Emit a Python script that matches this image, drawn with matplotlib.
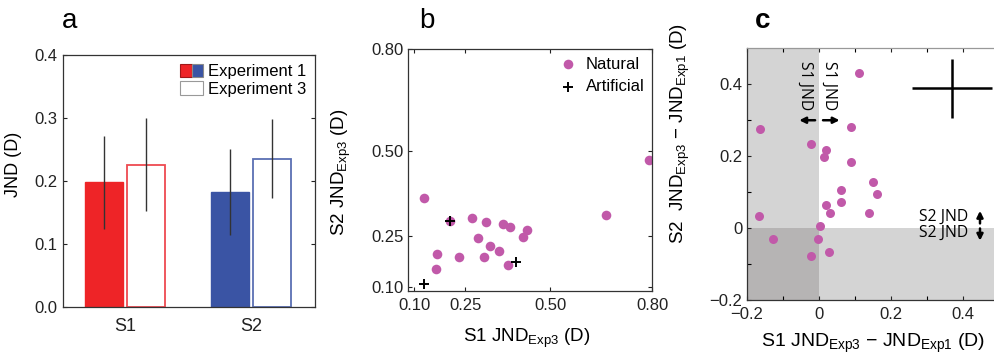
import numpy as np
import matplotlib
matplotlib.use("Agg")
import matplotlib.pyplot as plt
from matplotlib.patches import Patch
from matplotlib.legend_handler import HandlerTuple

plt.rcParams['font.family'] = ['Liberation Sans', 'DejaVu Sans']
plt.rcParams['mathtext.fontset'] = 'custom'
plt.rcParams['mathtext.rm'] = 'Liberation Sans'
plt.rcParams['mathtext.it'] = 'Liberation Sans:italic'
plt.rcParams['font.size'] = 12

# panel a: mean JND per stimulus, experiment 1 vs experiment 3
stimuli = ["S1", "S2"]
jnd_exp1 = [0.198, 0.182]
jnd_exp3 = [0.226, 0.235]
err_exp1 = [0.074, 0.068]
err_exp3 = [0.074, 0.063]

# panel b: per-observer JND in experiment 3
nat_s1 = [0.791, 0.129, 0.206, 0.270, 0.312, 0.362, 0.383, 0.433, 0.420,
          0.288, 0.324, 0.349, 0.167, 0.233, 0.306, 0.377, 0.164, 0.664]
nat_s2 = [0.474, 0.362, 0.294, 0.303, 0.292, 0.285, 0.276, 0.266, 0.245,
          0.243, 0.219, 0.204, 0.197, 0.188, 0.188, 0.163, 0.152, 0.312]
art_s1 = [0.206, 0.399, 0.130]
art_s2 = [0.294, 0.174, 0.108]

# panel c: JND differences Exp3 - Exp1
diff_s1 = [0.111, -0.163, -0.023, 0.090, 0.020, 0.014, 0.088, 0.151, 0.162, 0.060,
           0.062, 0.018, 0.030, 0.140, -0.167, 0.002, -0.127, -0.002, 0.028, -0.023]
diff_s2 = [0.432, 0.275, 0.234, 0.280, 0.218, 0.199, 0.183, 0.128, 0.096, 0.105,
           0.072, 0.063, 0.042, 0.042, 0.033, 0.005, -0.030, -0.030, -0.067, -0.078]
cross_mean = (0.369, 0.389)
cross_err = (0.112, 0.0825)

red, blue = '#ee2427', '#3a54a4'
purple = '#c159a9'
light, dark = '#d4d4d4', '#b6b4b4'

fig = plt.figure(figsize=(9.95, 3.58), dpi=100)
ax_a = fig.add_axes([0.063, 0.1433, 0.2536, 0.703])
ax_b = fig.add_axes([0.4104, 0.188, 0.2452, 0.6743])
ax_c = fig.add_axes([0.7508, 0.162, 0.2533, 0.703])

for ax in (ax_a, ax_b, ax_c):
    ax.tick_params(direction='in', length=3, width=0.8, top=True, right=True,
                   labelsize=12, colors='#222222')
    for s in ax.spines.values():
        s.set_color('#333333')
        s.set_linewidth(0.9)

# ---- a ----
x = np.arange(1, len(stimuli) + 1)
w = 0.30
off = 0.167
for i in range(len(stimuli)):
    c = [red, blue][i]
    ax_a.bar(x[i] - off, jnd_exp1[i], w, color=c, edgecolor=c, zorder=2)
    ax_a.bar(x[i] + off, jnd_exp3[i], w, facecolor='white',
             edgecolor=['#ee4a50', '#5b70b3'][i], linewidth=1.3, zorder=2)
ax_a.errorbar(x - off, jnd_exp1, yerr=err_exp1, fmt='none', ecolor='#333333',
              elinewidth=1.0, capsize=0, zorder=3)
ax_a.errorbar(x + off, jnd_exp3, yerr=err_exp3, fmt='none', ecolor='#333333',
              elinewidth=1.0, capsize=0, zorder=3)
ax_a.set_xlim(0.506, 2.506)
ax_a.set_ylim(0, 0.4)
ax_a.set_xticks(x)
ax_a.set_xticklabels(stimuli, fontsize=13)
ax_a.tick_params(axis='x', length=0, pad=8, top=False)
ax_a.set_yticks([0, 0.1, 0.2, 0.3, 0.4])
ax_a.set_yticklabels(["0.0", "0.1", "0.2", "0.3", "0.4"])
ax_a.set_ylabel("JND (D)", fontsize=13)
ax_a.yaxis.set_label_coords(-0.163, 0.567)
h1 = (Patch(facecolor=red, edgecolor='#a01818', linewidth=0.8),
      Patch(facecolor=blue, edgecolor='#8a8a8a', linewidth=0.8))
h3 = Patch(facecolor='white', edgecolor='#999999', linewidth=0.8)
ax_a.legend([h1, h3], ["Experiment 1", "Experiment 3"], loc='upper right',
            bbox_to_anchor=(0.985, 0.985),
            handler_map={tuple: HandlerTuple(ndivide=None, pad=0)},
            frameon=False, fontsize=12, handlelength=1.35, handleheight=0.85,
            handletextpad=0.3, labelspacing=0.12, borderaxespad=0.0,
            borderpad=0.3)

# ---- b ----
ax_b.scatter(nat_s1, nat_s2, s=48, color=purple, linewidths=0, label="Natural", zorder=2)
ax_b.scatter(art_s1, art_s2, s=55, marker='+', color='black', linewidths=1.4,
             label="Artificial", zorder=3)
ax_b.set_xlim(0.083, 0.80)
ax_b.set_ylim(0.088, 0.80)
ticks_b = [0.10, 0.25, 0.50, 0.80]
ax_b.set_xticks(ticks_b)
ax_b.set_xticklabels(["0.10", "0.25", "0.50", "0.80"])
ax_b.set_yticks(ticks_b)
ax_b.set_yticklabels(["0.10", "0.25", "0.50", "0.80"])
ax_b.tick_params(axis='x', pad=5)
ax_b.set_xlabel(r"S1 JND$_{\mathrm{Exp3}}$ (D)", fontsize=13.5)
ax_b.xaxis.set_label_coords(0.486, -0.15)
ax_b.set_ylabel(r"S2 JND$_{\mathrm{Exp3}}$ (D)", fontsize=13.5)
ax_b.yaxis.set_label_coords(-0.225, 0.49)
ax_b.legend(loc='upper right', frameon=False, fontsize=12, handletextpad=0.5,
            labelspacing=0.45, borderaxespad=0.05, scatterpoints=1, handlelength=1.2)

# ---- c ----
ax_c.set_xlim(-0.2, 0.5)
ax_c.set_ylim(-0.2, 0.5)
ax_c.axvspan(-0.2, 0, color=light, lw=0, zorder=0)
ax_c.axhspan(-0.2, 0, color=light, lw=0, zorder=0)
ax_c.fill_between([-0.2, 0], -0.2, 0, color=dark, lw=0, zorder=0.5)
ax_c.scatter(diff_s1, diff_s2, s=42, color=purple, linewidths=0, zorder=3)
ax_c.errorbar([cross_mean[0]], [cross_mean[1]], xerr=[cross_err[0]], yerr=[cross_err[1]],
              fmt='none', ecolor='black', elinewidth=1.8, capsize=0, zorder=3)
ax_c.set_xticks([-0.2, 0, 0.2, 0.4])
ax_c.set_xticklabels(["\u22120.2", "0", "0.2", "0.4"])
ax_c.set_yticks([-0.2, 0, 0.2, 0.4])
ax_c.set_yticklabels(["\u22120.2", "0", "0.2", "0.4"])
ax_c.set_xticks([-0.1, 0.1, 0.3], minor=True)
ax_c.set_yticks([-0.1, 0.1, 0.3], minor=True)
ax_c.tick_params(which='minor', direction='in', length=3, width=0.8, top=True, right=True)
ax_c.tick_params(axis='x', pad=5)
ax_c.spines['top'].set_color('#999999')
ax_c.set_xlabel("S1 JND$_{\\mathrm{Exp3}}$ \u2212 JND$_{\\mathrm{Exp1}}$ (D)", fontsize=14)
ax_c.xaxis.set_label_coords(0.5, -0.125)
ax_c.set_ylabel("S2  JND$_{\\mathrm{Exp3}}$ \u2212 JND$_{\\mathrm{Exp1}}$ (D)", fontsize=13.5)
ax_c.yaxis.set_label_coords(-0.218, 0.663)

note = dict(family=['Open Sans', 'DejaVu Sans'], fontsize=11.3, color='black', zorder=4)
ax_c.text(-0.039, 0.397, "S1 JND", rotation=270, ha='center', va='center', **note)
ax_c.text(0.028, 0.397, "S1 JND", rotation=270, ha='center', va='center', **note)
arw = dict(arrowstyle='-|>', color='black', lw=1.8, mutation_scale=9, shrinkA=0, shrinkB=0)
ax_c.annotate("", xy=(-0.055, 0.30), xytext=(-0.011, 0.30), arrowprops=arw)
ax_c.annotate("", xy=(0.057, 0.30), xytext=(0.011, 0.30), arrowprops=arw)
ax_c.text(0.414, 0.032, "S2 JND", ha='right', va='center', **note)
ax_c.text(0.414, -0.013, "S2 JND", ha='right', va='center', **note)
ax_c.annotate("", xy=(0.447, 0.048), xytext=(0.447, 0.013), arrowprops=arw)
ax_c.annotate("", xy=(0.447, -0.035), xytext=(0.447, -0.001), arrowprops=arw)

fig.text(70 / 995, 1 - 28 / 358, "a", fontsize=20, ha='center', va='baseline')
fig.text(427 / 995, 1 - 28 / 358, "b", fontsize=20, ha='center', va='baseline')
fig.text(763 / 995, 1 - 28 / 358, "c", fontsize=20, ha='center', va='baseline',
         fontweight='bold')

fig.savefig("out.png", dpi=100)
